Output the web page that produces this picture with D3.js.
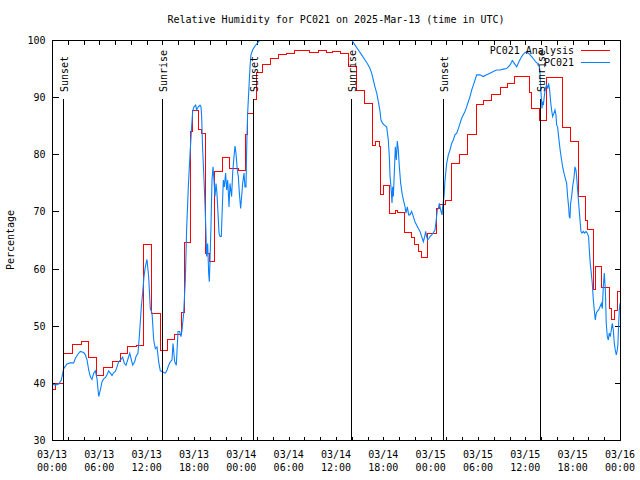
<!DOCTYPE html>
<html><head><meta charset="utf-8">
<script src="https://cdn.jsdelivr.net/npm/d3@7"></script>
<style>body{margin:0;background:#fff}svg{display:block}</style>
</head><body>
<svg id="c" width="640" height="480"></svg>
<script>
// ---- data (hours since 2025-03-13 00:00 UTC, relative humidity %) ----
const startUTC = Date.UTC(2025, 2, 13);
const titleText = "Relative Humidity for PC021 on 2025-Mar-13 (time in UTC)";
const yLabel = "Percentage";
const seriesNames = ["PC021 Analysis", "PC021"];
const analysisSteps = [
[0,38.9],[0.5,39.9],[1.52,45.2],[2.62,46.8],[3.72,47.3],[4.65,44.5],[5.58,41.3],[6.55,42.7],[7.73,43.8],[8.66,45.2],[9.63,46.45],[10.65,46.6],[11.62,64.3],[12.59,52.2],[13.77,45.6],[14.66,47.6],[15.55,48.5],[16.39,52.3],[16.75,64.65],[17.58,84.0],[17.75,87.7],[18.6,84.3],[18.9,83.7],[19.52,62.7],[19.95,61.2],[20.58,77.0],[21.63,79.5],[22.56,77.5],[23.6,77.2],[24.55,83.4],[24.75,87.2],[25.52,89.6],[25.9,94.4],[26.7,95.8],[27.72,96.8],[28.69,97.4],[29.75,97.7],[30.8,98.1],[31.78,98.2],[32.7,97.9],[33.76,98.2],[34.82,97.9],[35.5,98.0],[36.51,97.7],[37.56,95.45],[38.62,91.1],[39.59,88.9],[40.65,81.6],[40.95,82.2],[41.5,81.3],[41.7,72.9],[42.0,74.6],[42.76,69.7],[43.5,70.2],[43.8,69.9],[44.62,66.3],[45.59,65.5],[46.0,64.2],[46.43,63.0],[46.86,62.0],[47.62,66.2],[48.76,70.5],[49.1,71.2],[49.82,72.0],[50.66,78.4],[51.63,80.0],[52.65,83.5],[53.75,88.7],[54.76,89.5],[55.73,90.5],[56.79,91.7],[57.76,92.4],[58.69,93.7],[60.59,90.8],[60.8,88.0],[61.77,86.0],[62.7,93.4],[64.73,84.7],[65.75,82.3],[66.76,72.7],[67.69,68.5],[67.86,66.9],[68.62,56.3],[68.95,60.45],[69.67,56.7],[70.64,53.0],[70.94,51.1],[71.36,52.75],[71.66,56.0],[72,56.0]
];
const observations = [
[0,39.8],[0.42,39.6],[0.85,39.8],[1.18,40.5],[1.48,42.5],[1.9,43.3],[2.32,43.5],[2.75,43.5],[2.96,44.3],[3.3,45.05],[3.59,45.5],[4.01,45.3],[4.23,44.9],[4.44,44.0],[4.65,42.25],[4.86,41.1],[5.07,40.6],[5.28,41.7],[5.49,42.1],[5.7,40.8],[5.92,37.6],[6.13,38.75],[6.34,40.2],[6.55,40.7],[6.76,40.9],[6.97,41.4],[7.18,42.1],[7.39,41.7],[7.61,41.3],[7.82,41.8],[8.03,42.0],[8.24,42.8],[8.45,43.7],[8.75,44.1],[8.96,44.5],[9.17,43.4],[9.38,43.1],[9.59,44.0],[9.85,45.2],[10.06,44.0],[10.23,43.1],[10.48,43.7],[10.65,44.6],[10.9,45.2],[11.07,48.1],[11.32,53.3],[11.49,55.7],[11.66,58.6],[11.83,60.3],[12.04,61.6],[12.25,58.6],[12.46,53.0],[12.68,52.2],[12.89,47.5],[13.1,46.0],[13.31,46.3],[13.52,43.7],[13.73,42.1],[13.94,42.0],[14.15,41.8],[14.37,41.7],[14.58,42.25],[14.79,43.1],[15.0,43.7],[15.21,44.0],[15.34,46.9],[15.55,43.7],[15.76,43.1],[15.97,49.0],[16.18,49.0],[16.35,48.1],[16.48,49.25],[16.69,52.2],[16.9,58.0],[17.07,67.0],[17.28,74.3],[17.49,79.9],[17.7,84.8],[17.83,87.5],[18.0,88.3],[18.21,88.6],[18.34,87.75],[18.55,88.3],[18.76,88.6],[18.89,88.3],[18.97,86.6],[19.1,80.75],[19.27,75.5],[19.39,71.4],[19.52,66.2],[19.6,62.1],[19.73,64.4],[19.86,59.2],[19.94,57.7],[20.03,61.5],[20.15,67.3],[20.28,75.5],[20.41,77.8],[20.53,75.5],[20.66,72.6],[20.79,74.9],[20.91,73.2],[21.04,69.7],[21.17,66.2],[21.3,65.6],[21.46,65.6],[21.59,70.8],[21.72,75.5],[21.84,74.3],[22.01,76.7],[22.14,73.75],[22.27,75.5],[22.44,70.8],[22.56,74.9],[22.77,72.6],[22.9,76.7],[23.07,79.6],[23.2,81.45],[23.32,80.2],[23.49,77.25],[23.62,76.1],[23.75,73.2],[23.91,70.5],[24.04,72.6],[24.17,74.9],[24.34,76.7],[24.46,74.3],[24.59,74.3],[24.68,81.3],[24.8,87.2],[24.97,91.8],[25.1,95.3],[25.22,97.4],[25.43,98.25],[25.73,98.95],[26.07,99.5],[26.37,100],[30,100],[35,100],[37.99,100],[38.41,99.1],[38.83,98.25],[39.25,97.4],[39.68,96.5],[39.97,95.9],[40.31,95.0],[40.52,94.2],[40.73,93.0],[40.94,91.8],[41.16,90.7],[41.37,89.2],[41.58,87.5],[41.7,86.0],[41.92,85.4],[42.13,85.1],[42.42,84.8],[42.63,82.5],[42.76,79.6],[42.85,76.1],[42.97,74.3],[43.1,71.5],[43.18,74.3],[43.27,72.6],[43.39,76.7],[43.52,81.3],[43.65,79.0],[43.77,82.3],[43.9,80.75],[44.03,77.8],[44.2,74.9],[44.37,73.2],[44.54,72.0],[44.75,70.8],[44.87,69.7],[45.04,70.8],[45.21,69.4],[45.38,69.4],[45.59,70.0],[45.8,69.1],[46.01,68.2],[46.23,67.6],[46.44,67.0],[46.65,66.5],[46.86,65.6],[47.07,64.7],[47.24,65.6],[47.37,66.5],[47.49,65.6],[47.62,65.0],[47.79,65.3],[47.92,65.6],[48.13,65.9],[48.34,66.3],[48.55,66.75],[48.68,68.2],[48.84,70.25],[48.97,70.5],[49.1,71.4],[49.27,70.25],[49.44,69.4],[49.52,70.8],[49.69,72.6],[49.82,75.5],[50.03,78.4],[50.24,79.9],[50.45,80.75],[50.66,81.9],[50.87,82.5],[51.08,83.4],[51.3,83.7],[51.51,84.5],[51.72,85.4],[51.93,86.3],[52.14,86.9],[52.35,87.5],[52.56,88.3],[52.77,89.2],[52.99,90.1],[53.2,91.25],[53.41,92.1],[53.62,93.0],[53.83,93.9],[54.25,93.9],[54.67,93.6],[55.1,93.9],[55.52,94.2],[55.94,94.5],[56.36,94.75],[56.79,94.75],[57.21,94.9],[57.63,95.0],[58.05,95.6],[58.35,96.4],[58.6,95.9],[58.9,95.3],[59.19,96.2],[59.53,97.1],[59.87,97.7],[60.17,97.96],[60.5,97.55],[60.8,97.1],[61.14,96.5],[61.43,96.0],[61.64,95.9],[61.77,95.3],[61.86,94.2],[61.94,91.8],[62.02,90.1],[62.11,88.0],[62.19,89.2],[62.28,88.6],[62.4,90.1],[62.53,91.5],[62.7,92.1],[62.83,91.5],[62.95,92.4],[63.08,91.25],[63.21,89.2],[63.33,87.75],[63.46,86.6],[63.63,87.2],[63.76,87.75],[63.88,86.9],[63.97,85.1],[64.09,84.8],[64.22,83.1],[64.39,81.0],[64.56,79.3],[64.73,77.8],[64.9,76.7],[65.07,75.8],[65.24,74.9],[65.36,72.6],[65.49,70.8],[65.57,69.1],[65.66,68.8],[65.74,71.4],[65.87,72.6],[65.99,74.3],[66.16,75.8],[66.29,77.8],[66.42,77.25],[66.5,76.1],[66.63,73.75],[66.76,71.4],[66.93,68.5],[67.05,66.5],[67.18,66.2],[67.35,66.5],[67.52,66.2],[67.69,66.5],[67.85,66.2],[68.02,65.6],[68.11,63.25],[68.23,60.9],[68.36,59.2],[68.49,57.4],[68.62,54.5],[68.74,52.75],[68.87,51.0],[68.99,52.2],[69.12,52.5],[69.29,52.75],[69.46,53.3],[69.63,53.9],[69.76,53.0],[69.88,56.8],[70.01,59.2],[70.14,56.25],[70.26,50.4],[70.39,48.1],[70.52,47.5],[70.64,48.7],[70.77,48.1],[70.9,49.25],[71.02,50.4],[71.15,49.25],[71.28,46.9],[71.4,45.75],[71.53,44.9],[71.66,45.75],[71.74,46.9],[71.83,50.4],[71.91,52.75],[72.0,53.9]
];
const sunsetHours = [1.43, 25.52, 49.6];
const sunriseHours = [13.9, 37.86, 61.9];
const yTickValues = [30, 40, 50, 60, 70, 80, 90, 100];

// ---- styles / layout ----
const FONT = "'DejaVu Sans Mono', monospace";
const COLORS = ["#ff0000", "#0a80ff"];
const L = 52, R = 620, T = 40, B = 440;

const svg = d3.select("#c").style("font-family", FONT).style("font-size", "10px");
const toDate = h => new Date(startUTC + h * 3600e3);
const x = d3.scaleUtc().domain([toDate(0), toDate(72)]).range([L, R]);
const y = d3.scaleLinear().domain([30, 100]).range([B, T]);

// title
svg.append("text").attr("x", 336).attr("y", 23).attr("text-anchor", "middle").attr("fill", "#000").text(titleText);
// y label
svg.append("text").attr("transform", "translate(14,240) rotate(-90)").attr("text-anchor", "middle").text(yLabel);

// clip
svg.append("clipPath").attr("id", "clip").append("rect").attr("x", L).attr("y", T).attr("width", R - L + 1).attr("height", B - T + 1);

// axes ticks
const tickHours = d3.utcHour.every(2);
const gB = svg.append("g").attr("transform", `translate(0,${B + 0.5})`)
  .call(d3.axisBottom(x).ticks(tickHours).tickSize(-4).tickFormat(""));
const gT = svg.append("g").attr("transform", `translate(0,${T + 0.5})`)
  .call(d3.axisTop(x).ticks(tickHours).tickSize(-4).tickFormat(""));
const gL = svg.append("g").attr("transform", `translate(${L + 0.5},0)`)
  .call(d3.axisLeft(y).tickValues(yTickValues).tickSize(-6).tickPadding(7).tickFormat(d3.format("d")));
const gR = svg.append("g").attr("transform", `translate(${R + 0.5},0)`)
  .call(d3.axisRight(y).tickValues(yTickValues).tickSize(-6).tickFormat(""));
[gB, gT, gL, gR].forEach(g => {
  g.select(".domain").remove();
  g.selectAll("line").attr("stroke", "#000").attr("shape-rendering", "crispEdges");
  g.selectAll("text").attr("font-family", FONT).attr("font-size", "10px").attr("fill", "#000");
});
gL.selectAll("text").attr("dy", "0.35em");

// x labels (two lines) every 6 h
const fmtD = d3.utcFormat("%m/%d"), fmtH = d3.utcFormat("%H:%M");
const lab = svg.append("g").selectAll("text").data(x.ticks(d3.utcHour.every(6))).join("text")
  .attr("x", d => x(d)).attr("text-anchor", "middle").attr("fill", "#000");
lab.append("tspan").attr("x", d => x(d)).attr("y", 458).text(d => fmtD(d));
lab.append("tspan").attr("x", d => x(d)).attr("y", 471).text(d => fmtH(d));

// data lines
const plot = svg.append("g").attr("clip-path", "url(#clip)");
const redLine = d3.line().x(d => x(toDate(d[0]))).y(d => y(d[1])).curve(d3.curveStepAfter);
const blueLine = d3.line().x(d => x(toDate(d[0]))).y(d => y(d[1]));
plot.append("path").datum(analysisSteps).attr("d", redLine).attr("fill", "none")
  .attr("stroke", COLORS[0]).attr("stroke-width", 1).attr("shape-rendering", "crispEdges");
plot.append("path").datum(observations).attr("d", blueLine).attr("fill", "none")
  .attr("stroke", COLORS[1]).attr("stroke-width", 1.1);

// frame
svg.append("rect").attr("x", L + 0.5).attr("y", T + 0.5).attr("width", R - L).attr("height", B - T)
  .attr("fill", "none").attr("stroke", "#000").attr("shape-rendering", "crispEdges");

// sunrise / sunset markers
const events = sunsetHours.map(h => ({h, name: "Sunset"})).concat(sunriseHours.map(h => ({h, name: "Sunrise"})));
const ev = svg.append("g").selectAll("g").data(events).join("g");
ev.append("line").attr("x1", d => Math.round(x(toDate(d.h))) + 0.5).attr("x2", d => Math.round(x(toDate(d.h))) + 0.5)
  .attr("y1", y(30)).attr("y2", 99).attr("stroke", "#000").attr("shape-rendering", "crispEdges");
ev.append("text").attr("transform", d => `translate(${x(toDate(d.h)) + 5},92) rotate(-90)`)
  .attr("text-anchor", "start").attr("fill", "#000").text(d => d.name);

// legend
const leg = svg.append("g").selectAll("g").data(seriesNames).join("g")
  .attr("transform", (d, i) => `translate(0,${50 + i * 12})`);
leg.append("text").attr("x", 574).attr("y", 4).attr("text-anchor", "end").attr("fill", "#000").text(d => d);
leg.append("line").attr("x1", 581).attr("x2", 610).attr("y1", 0.5).attr("y2", 0.5)
  .attr("stroke", (d, i) => COLORS[i]).attr("shape-rendering", "crispEdges");
</script>
</body></html>
